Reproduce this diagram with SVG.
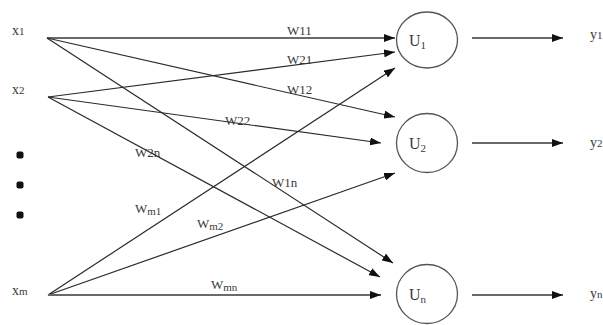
<svg xmlns="http://www.w3.org/2000/svg" width="603" height="325" viewBox="0 0 603 325">
<style>
  .t{font-family:"Liberation Serif","Times New Roman",serif;fill:#3a3a3a;font-size:14px}
  .w{font-size:13px}
  .u{font-size:16px}
  .sub{font-size:11px}
  .ln{stroke:#2a2a2a;stroke-width:1.2;fill:none}
  .thick{stroke:#6a6a6a;stroke-width:2.2;fill:none}
  .node{fill:#fff;stroke:#555;stroke-width:1.3}
  .dot{fill:#111}
</style>
<defs>
  <marker id="ah" markerUnits="userSpaceOnUse" markerWidth="11" markerHeight="8" refX="11" refY="4" orient="auto">
    <path d="M0,0 L11,4 L0,8 z" fill="#111"/>
  </marker>
</defs>
<rect width="603" height="325" fill="#fff"/>

<g id="inputs">
  <g id="x1"><text class="t" x="12" y="35">x<tspan class="sub">1</tspan></text></g>
  <g id="x2"><text class="t" x="12" y="94">x<tspan class="sub">2</tspan></text></g>
  <g id="dots">
    <rect class="dot" x="16.5" y="151.5" width="7" height="7" rx="2"/>
    <rect class="dot" x="16.5" y="181.5" width="7" height="7" rx="2"/>
    <rect class="dot" x="16.5" y="211.5" width="7" height="7" rx="2"/>
  </g>
  <g id="xm"><text class="t" x="12" y="295">x<tspan class="sub">m</tspan></text></g>
</g>

<g id="connectors">
  <line class="thick" x1="47" y1="38" x2="395" y2="38" marker-end="url(#ah)"/>
  <line class="ln" x1="47" y1="38" x2="395" y2="117" marker-end="url(#ah)"/>
  <line class="ln" x1="47" y1="38" x2="393" y2="263" marker-end="url(#ah)"/>
  <line class="ln" x1="48" y1="97" x2="395" y2="52" marker-end="url(#ah)"/>
  <line class="ln" x1="48" y1="97" x2="381" y2="143" marker-end="url(#ah)"/>
  <line class="ln" x1="48" y1="97" x2="380" y2="277" marker-end="url(#ah)"/>
  <line class="ln" x1="48" y1="295" x2="395" y2="68" marker-end="url(#ah)"/>
  <line class="ln" x1="48" y1="295" x2="395" y2="173" marker-end="url(#ah)"/>
  <line class="thick" x1="48" y1="295" x2="381" y2="295" marker-end="url(#ah)"/>
  <line class="thick" x1="472" y1="38" x2="563" y2="38" marker-end="url(#ah)"/>
  <line class="thick" x1="472" y1="143" x2="563" y2="143" marker-end="url(#ah)"/>
  <line class="thick" x1="472" y1="295" x2="563" y2="295" marker-end="url(#ah)"/>
  <g id="weights">
    <text class="t w" x="287" y="35">W11</text>
    <text class="t w" x="287" y="64">W21</text>
    <text class="t w" x="287" y="94">W12</text>
    <text class="t w" x="225" y="125">W22</text>
    <text class="t w" x="135" y="157">W2n</text>
    <text class="t w" x="272" y="187">W1n</text>
    <text class="t w" x="135" y="213">W<tspan class="sub" dy="2">m1</tspan></text>
    <text class="t w" x="197" y="228">W<tspan class="sub" dy="2">m2</tspan></text>
    <text class="t w" x="211" y="289">W<tspan class="sub" dy="2">mn</tspan></text>
  </g>
</g>

<g id="U1">
  <ellipse class="node" cx="427" cy="40" rx="30.5" ry="28"/>
  <text class="t u" x="409" y="46">U<tspan class="sub" dy="3">1</tspan></text>
</g>
<g id="U2">
  <ellipse class="node" cx="427" cy="143" rx="30.5" ry="29.5"/>
  <text class="t u" x="409" y="149">U<tspan class="sub" dy="3">2</tspan></text>
</g>
<g id="Un">
  <ellipse class="node" cx="427" cy="294" rx="30.5" ry="29.5"/>
  <text class="t u" x="409" y="300">U<tspan class="sub" dy="3">n</tspan></text>
</g>

<g id="outputs">
  <text class="t" x="590" y="39">y<tspan class="sub">1</tspan></text>
  <text class="t" x="590" y="147">y<tspan class="sub">2</tspan></text>
  <text class="t" x="590" y="298">y<tspan class="sub">n</tspan></text>
</g>
</svg>
